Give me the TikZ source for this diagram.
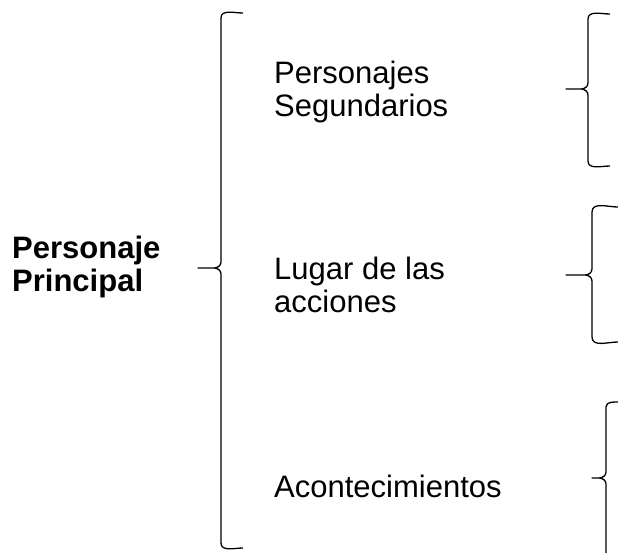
\documentclass[tikz,border=0pt]{standalone}
\usepackage{fontspec}
\setmainfont{Liberation Sans}
\newcommand{\mybrace}[7]{% xarm, ytop, xv, xtip, ytip, ybot, xarmbot
  \draw[bracestyle] (#1,#2) to[out=180,in=90] (#3,#2+5) -- (#3,#5-6)
    to[out=-90,in=0] (#3-7,#5) -- (#4,#5) -- (#3-7,#5)
    to[out=0,in=90] (#3,#5+6) -- (#3,#6-5) to[out=-90,in=180] (#7,#6);}
\begin{document}
\begin{tikzpicture}[x=1pt,y=-1pt,
  bracestyle/.style={line width=1.3pt,black,line join=round},
  txt/.style={anchor=base west,inner sep=0pt,font=\fontsize{31}{33}\selectfont},
  btxt/.style={txt,font=\fontsize{31}{33}\selectfont\bfseries}]
\useasboundingbox (0,0) rectangle (618,552);
\fill[white] (0,0) rectangle (618,552);
\mybrace{243}{13}{221}{198}{268}{548}{243}
\mybrace{610}{14}{588}{566}{89}{166}{610}
\mybrace{618}{207}{592}{566}{275}{342}{618}
\mybrace{620}{402}{606}{592}{478}{600}{620}
\node[btxt] (pp1) at (12,258) {Personaje};
\node[btxt] (pp2) at (12,291) {Principal};
\node[txt] (ps1) at (274,83) {Personajes};
\node[txt] (ps2) at (274,116) {Segundarios};
\node[txt] (la1) at (274,279) {Lugar de las};
\node[txt] (la2) at (274,312) {acciones};
\node[txt] (ac) at (274,497) {Acontecimientos};
\end{tikzpicture}
\end{document}
